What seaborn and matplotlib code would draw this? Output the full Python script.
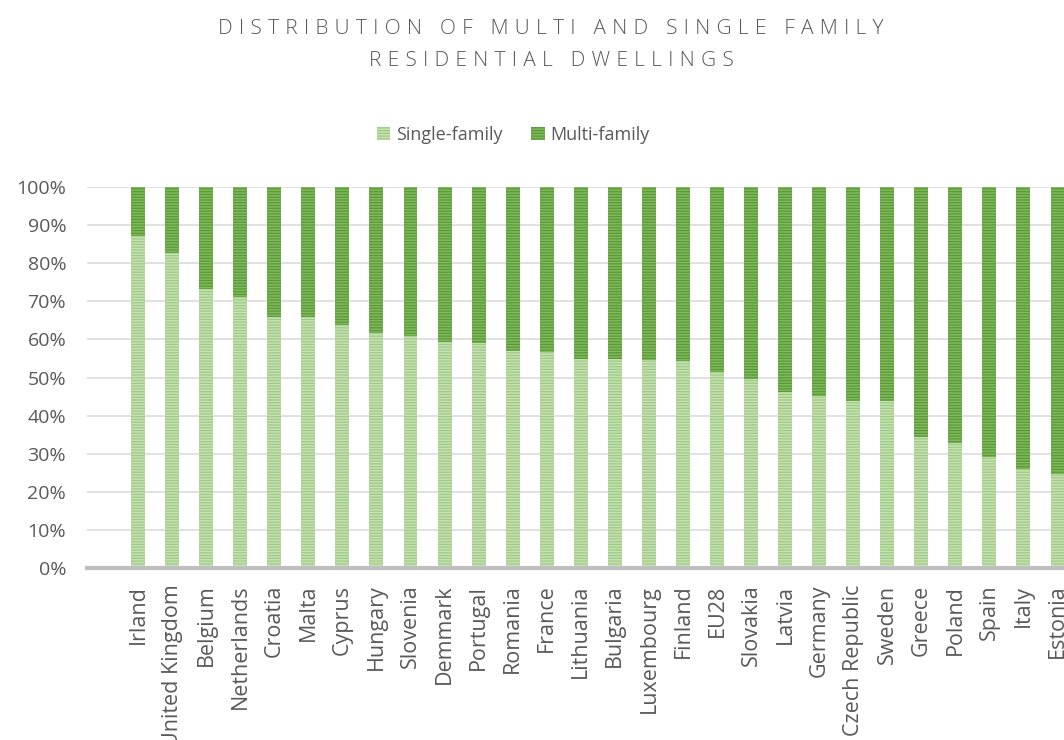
import pandas as pd
import numpy as np
import matplotlib
matplotlib.use("Agg")
import matplotlib.pyplot as plt
import seaborn as sns
from matplotlib.patches import Patch
from matplotlib.ticker import PercentFormatter

countries = ["Irland", "United Kingdom", "Belgium", "Netherlands", "Croatia", "Malta",
             "Cyprus", "Hungary", "Slovenia", "Demmark", "Portugal", "Romania", "France",
             "Lithuania", "Bulgaria", "Luxembourg", "Finland", "EU28", "Slovakia", "Latvia",
             "Germany", "Czech Republic", "Sweden", "Greece", "Poland", "Spain", "Italy",
             "Estonia"]
single_family = [87.2, 82.6, 73.2, 71.0, 66.0, 65.9, 63.9, 61.8, 60.8, 59.2, 59.0, 57.0, 56.8,
                 54.9, 54.8, 54.7, 54.3, 51.5, 49.5, 46.2, 45.1, 43.9, 43.8, 34.5, 32.8, 29.2,
                 26.0, 24.8]
multi_family = [100 - v for v in single_family]

TEXT = "#595959"
LIGHT, LIGHT_HATCH = "#9ecb83", "#c6e0b4"
DARK, DARK_HATCH = "#5a9a35", "#80b85e"

df = pd.DataFrame({"country": countries,
                   "single": np.array(single_family) / 100,
                   "total": (np.array(single_family) + np.array(multi_family)) / 100})

sns.set_style("white")
plt.rcParams["font.family"] = ["Open Sans", "DejaVu Sans"]
plt.rcParams["hatch.linewidth"] = 1.1

fig = plt.figure(figsize=(10.64, 7.40), dpi=100)
ax = fig.add_axes([87 / 1064, 1 - 568 / 740, 1 - 87 / 1064, (568 - 187) / 740])

# multi-family drawn as the full stack, single-family over it
sns.barplot(data=df, x="country", y="total", color=DARK, width=0.41, ax=ax,
            edgecolor=DARK_HATCH, linewidth=0, hatch="------", saturation=1)
sns.barplot(data=df, x="country", y="single", color=LIGHT, width=0.41, ax=ax,
            edgecolor=LIGHT_HATCH, linewidth=0, hatch="------", saturation=1)

ax.set_xlim(-1.5, len(countries) - 1 + 0.19)
ax.set_ylim(0, 1)
ax.set_yticks(np.arange(0, 1.01, 0.1))
ax.yaxis.set_major_formatter(PercentFormatter(1.0, decimals=0))
ax.grid(axis="y", color="#d9d9d9", linewidth=1.1)
ax.set_axisbelow(True)
for s in ["top", "right", "left"]:
    ax.spines[s].set_visible(False)
ax.spines["bottom"].set_color("#bfbfbf")
ax.spines["bottom"].set_linewidth(3)
ax.set_xlabel("")
ax.set_ylabel("")
ax.tick_params(axis="x", length=0, pad=12, labelsize=15.5, labelcolor=TEXT, labelrotation=90)
ax.tick_params(axis="y", length=0, pad=15, labelsize=14, labelcolor=TEXT)

title = "DISTRIBUTION OF MULTI AND SINGLE FAMILY\nRESIDENTIAL DWELLINGS"
spaced = "\n".join("\u2009\u200a".join(line) for line in title.split("\n"))
fig.text(551 / 1064, 1 - 45 / 740, spaced, ha="center", va="center", fontsize=15,
         fontweight="light", color=TEXT, linespacing=1.75)

handles = [Patch(facecolor=LIGHT, edgecolor=LIGHT_HATCH, hatch="------", linewidth=0, label="Single-family"),
           Patch(facecolor=DARK, edgecolor=DARK_HATCH, hatch="------", linewidth=0, label="Multi-family")]
fig.legend(handles=handles, loc="center", bbox_to_anchor=(513 / 1064, 1 - 135 / 740), ncol=2,
           frameon=False, fontsize=13, labelcolor=TEXT, handlelength=0.75, handleheight=0.75,
           handletextpad=0.3, columnspacing=1.6)

fig.savefig("out.png", dpi=100)
